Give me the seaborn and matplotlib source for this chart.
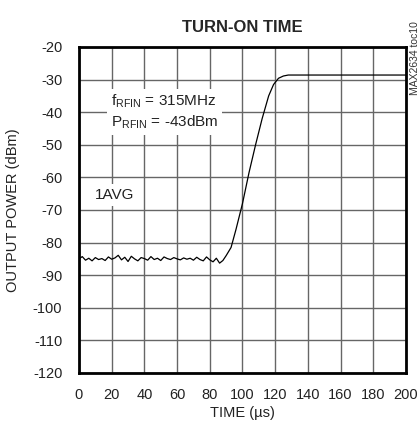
import numpy as np
import pandas as pd
import matplotlib.pyplot as plt
import seaborn as sns

# noise floor before the turn-on (~2 us steps)
noise_t = [0, 2, 4, 6, 8, 10, 12, 14, 16, 18, 20, 22, 24, 26, 28, 30, 32, 34, 36, 38,
           40, 42, 44, 46, 48, 50, 52, 54, 56, 58, 60, 62, 64, 66, 68, 70, 72, 74, 76, 78,
           80, 82, 84, 86]
noise_p = [-85.0, -84.3, -85.4, -84.8, -85.6, -84.6, -85.2, -84.9, -85.5, -84.4, -85.1, -84.7,
           -83.9, -85.3, -84.5, -85.8, -84.2, -85.0, -85.6, -84.6, -84.9, -85.4, -84.3, -85.2,
           -84.8, -85.5, -84.4, -84.9, -85.2, -84.6, -85.0, -85.3, -84.7, -85.1, -84.8, -85.4,
           -84.5, -85.2, -85.6, -84.4, -85.3, -85.9, -84.8, -86.3]
# rising edge and settled level
rise_t = [88, 90, 93, 96, 100, 104, 108, 112, 116, 119, 122, 125, 128, 135, 150, 170, 200]
rise_p = [-85.5, -84.0, -81.5, -76.0, -68.0, -58.5, -50.0, -42.0, -35.0, -31.5, -29.6,
          -28.9, -28.6, -28.6, -28.6, -28.6, -28.6]

df = pd.DataFrame({"time": noise_t + rise_t, "power": noise_p + rise_p})

sns.set_style("white")
plt.rcParams['font.family'] = ['Liberation Sans', 'DejaVu Sans']
plt.rcParams['axes.unicode_minus'] = False
plt.rcParams['mathtext.fontset'] = 'custom'
plt.rcParams['mathtext.rm'] = 'Liberation Sans'

fig = plt.figure(figsize=(4.19, 4.30), dpi=100)
ax = fig.add_axes([0.1885, 0.1326, 0.7805, 0.7581])

sns.lineplot(data=df, x="time", y="power", color="black", linewidth=0.9, ax=ax)

ax.set_xlim(0, 200)
ax.set_ylim(-120, -20)
ax.set_xticks(np.arange(0, 201, 20))
ax.set_yticks(np.arange(-120, -19, 10))
ax.grid(True, color="#666666", linewidth=1.0)
ax.set_axisbelow(True)
for s in ax.spines.values():
    s.set_linewidth(2.0)
    s.set_color("black")
ax.tick_params(length=0, labelsize=10.5, colors="#222222")
ax.tick_params(axis='x', pad=11)
ax.tick_params(axis='y', pad=12)

ax.set_xlabel("TIME (\u00b5s)", fontsize=10.5, color="#222222", labelpad=3)
ax.set_ylabel("OUTPUT POWER (dBm)", fontsize=10.5, color="#222222", labelpad=9)
ax.set_title("TURN-ON TIME", fontsize=12, fontweight="bold", pad=11)

box = dict(facecolor="white", edgecolor="none", pad=2.5)
ax.text(19.5, -36.6, "f$_{\\mathregular{RFIN}}$ = 315MHz", fontsize=11, color="#222222",
        va="center", bbox=box)
ax.text(19.5, -43.2, "P$_{\\mathregular{RFIN}}$ = -43dBm", fontsize=11, color="#222222",
        va="center", bbox=box)
ax.text(9.8, -65.4, "1AVG", fontsize=11, color="#222222", va="center", bbox=box)

fig.text(0.991, 0.95, "MAX2634 toc10", rotation=90, fontsize=7.5, color="#333333",
         ha="center", va="top")

plt.savefig("out.png", dpi=100)
